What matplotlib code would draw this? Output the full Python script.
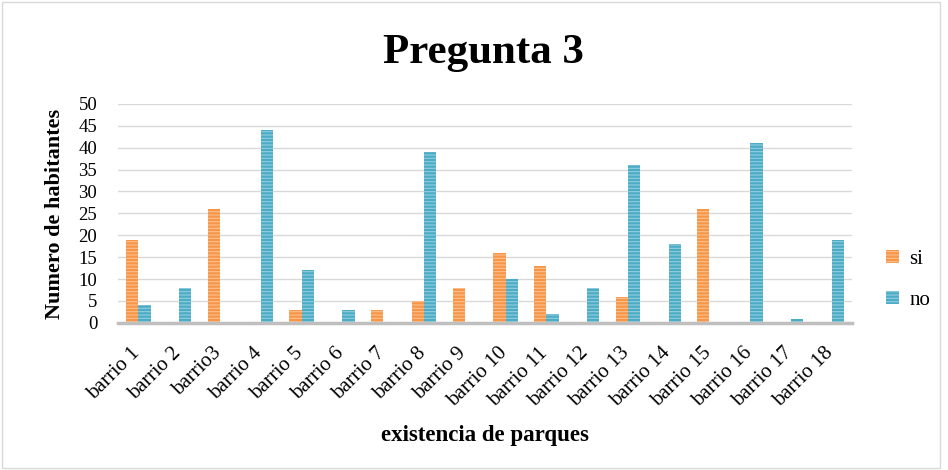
import numpy as np
import matplotlib as mpl
mpl.use("Agg")
import matplotlib.pyplot as plt
import matplotlib.transforms as mtransforms
from matplotlib.patches import Rectangle

plt.rcParams["font.family"] = ["Liberation Serif", "DejaVu Serif"]
plt.rcParams["hatch.linewidth"] = 0.8

barrios = ["barrio 1", "barrio 2", "barrio3", "barrio 4", "barrio 5", "barrio 6", "barrio 7",
           "barrio 8", "barrio 9", "barrio 10", "barrio 11", "barrio 12", "barrio 13",
           "barrio 14", "barrio 15", "barrio 16", "barrio 17", "barrio 18"]
si = [19, 0, 26, 0, 3, 0, 3, 5, 8, 16, 13, 0, 6, 0, 26, 0, 0, 0]
no = [4, 8, 0, 44, 12, 3, 0, 39, 0, 10, 2, 8, 36, 18, 0, 41, 1, 19]

C_SI, C_SI_L = "#F79646", "#FAC090"
C_NO, C_NO_L = "#4BACC6", "#93CDDD"

fig = plt.figure(figsize=(9.48, 4.70), dpi=100)
ax = fig.add_axes([0.1245, 0.313, 0.7745, 0.466])

x = np.arange(len(barrios))
w = 0.3
ax.bar(x - w / 2, si, w, color=C_SI, edgecolor=C_SI_L, linewidth=0, hatch="-----", label="si", zorder=3)
ax.bar(x + w / 2, no, w, color=C_NO, edgecolor=C_NO_L, linewidth=0, hatch="-----", label="no", zorder=3)

ax.set_xlim(-0.5, len(barrios) - 0.5)
ax.set_ylim(0, 50)
ax.set_yticks(range(0, 51, 5))
ax.tick_params(axis="y", labelsize=13.5, length=0, pad=15)
ax.tick_params(axis="x", length=0, pad=15)
ax.set_xticks(x)
ax.set_xticklabels(barrios, rotation=45, ha="right", rotation_mode="anchor", fontsize=15)
shift = mtransforms.ScaledTranslation(-8 / 100, 0, fig.dpi_scale_trans)
for lab in ax.get_xticklabels():
    lab.set_transform(lab.get_transform() + shift)
ax.grid(axis="y", color="#D9D9D9", linewidth=1, zorder=0)
for s in ["top", "right", "left"]:
    ax.spines[s].set_visible(False)
ax.spines["bottom"].set_color("#BFBFBF")
ax.spines["bottom"].set_linewidth(2.5)
ax.spines["bottom"].set_zorder(4)

fig.text(0.058, 0.545, "Numero de habitantes", ha="center", va="center", rotation=90,
         fontsize=16, fontweight="bold")
fig.text(0.512, 0.074, "existencia de parques", ha="center", va="center", fontsize=16.5, fontweight="bold")
fig.text(0.51, 0.887, "Pregunta 3", ha="center", va="center", fontsize=31, fontweight="bold")

fig.legend(loc="center left", bbox_to_anchor=(0.915, 0.405), frameon=False, fontsize=15,
           handlelength=0.6, handleheight=0.6, labelspacing=1.05, handletextpad=0.5)

fig.add_artist(Rectangle((0.002, 0.004), 0.99, 0.992, transform=fig.transFigure,
                         fill=False, edgecolor="#D9D9D9", linewidth=1))

fig.savefig("out.png", dpi=100)
